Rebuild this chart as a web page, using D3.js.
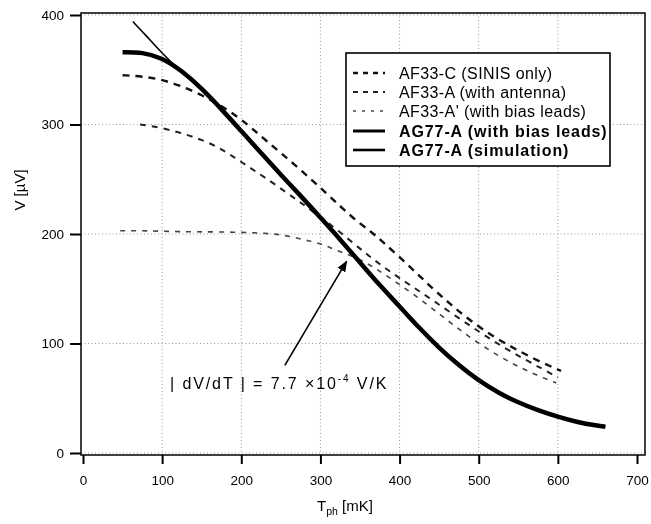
<!DOCTYPE html>
<html>
<head>
<meta charset="utf-8">
<script src="https://cdn.jsdelivr.net/npm/d3@7"></script>
<style>
  html, body { margin: 0; padding: 0; background: #fff; }
  svg { display: block; font-family: "Liberation Sans", Arial, Helvetica, sans-serif; filter: grayscale(1); }
</style>
</head>
<body>
<svg id="chart" width="651" height="524"></svg>
<script>
// ---- data (T in mK, V in µV) ----
const xTickValues = [0, 100, 200, 300, 400, 500, 600, 700];
const yTickValues = [0, 100, 200, 300, 400];

const seriesNames = [
  "AF33-C (SINIS only)",
  "AF33-A (with antenna)",
  "AF33-A' (with bias leads)",
  "AG77-A (with bias leads)",
  "AG77-A (simulation)"
];

const tAF33C = [50, 75, 100, 125, 150, 175, 200, 230, 270, 311, 340, 366, 380, 412, 439, 464, 489, 519, 546, 575, 604];
const vAF33C = [345, 344, 341, 335, 327, 317, 305, 286, 262, 235, 215, 201, 192, 171, 152, 136, 121, 106, 95, 84, 75];

const tAF33A = [72, 100, 130, 150, 172, 189, 210, 229, 257, 282, 307, 336, 361, 387, 414, 441, 471, 502, 530, 557, 580, 600];
const vAF33A = [300, 297, 291, 286, 279, 271, 261, 252, 238, 225, 212, 195, 180, 166, 153, 140, 125, 110, 97, 86, 77, 69];

const tAF33Ap = [47, 80, 120, 170, 235, 261, 277, 290, 305, 317, 332, 353, 375, 400, 425, 452, 475, 502, 529, 555, 580, 598];
const vAF33Ap = [203, 203, 202, 202, 201, 198, 195, 193, 190, 186, 182, 176, 166, 154, 141, 126, 113, 99, 87, 77, 69, 64];

const tAG77 = [50, 75, 100, 125, 150, 175, 200, 225, 250, 275, 300, 325, 350, 375, 400, 425, 450, 475, 500, 525, 550, 575, 600, 625, 650, 660];
const vAG77 = [366, 366, 361, 349, 333, 314, 294, 274, 254, 235, 215, 195, 174, 153, 134, 114, 96, 80, 66, 55, 46, 39, 33, 28, 25, 24];

const tSim = [63, 80, 100, 120, 150, 175, 200, 225, 250, 275, 300, 325, 350, 375, 400, 425, 450, 475, 500, 525, 550, 575, 600, 625, 650, 660];
const vSim = [394, 381, 365, 351, 333, 314, 294, 274, 254, 235, 215, 195, 174, 153, 134, 114, 96, 80, 66, 55, 46, 39, 33, 28, 25, 24];

const annotationText = "| dV/dT | = 7.7 \u00d710";
const annotationExp = "-4";
const annotationUnit = " V/K";

// ---- layout ----
const svg = d3.select("#chart");
const x = d3.scaleLinear().domain([0, 700]).range([83, 637]);
const y = d3.scaleLinear().domain([0, 400]).range([453, 15]);
const frame = { left: 81, right: 645, top: 13, bottom: 455 };

// grid (dotted)
const grid = svg.append("g").attr("stroke", "#999").attr("stroke-width", 1).attr("stroke-dasharray", "1,2.5");
grid.selectAll(".gx").data(xTickValues.filter(d => d > 0 && d < 700)).join("line")
  .attr("x1", d => x(d)).attr("x2", d => x(d)).attr("y1", frame.top).attr("y2", frame.bottom);
grid.selectAll(".gy").data(yTickValues).join("line")
  .attr("x1", frame.left).attr("x2", frame.right).attr("y1", d => y(d)).attr("y2", d => y(d));

// curves
const mk = (ts, vs) => ts.map((t, i) => [t, vs[i]]);
const line = d3.line().x(d => x(d[0])).y(d => y(d[1])).curve(d3.curveBasis);

const styles = [
  { data: mk(tAF33C, vAF33C), w: 2.4, dash: "7,6", color: "#111" },
  { data: mk(tAF33A, vAF33A), w: 2.0, dash: "6,6", color: "#222" },
  { data: mk(tAF33Ap, vAF33Ap), w: 1.6, dash: "5,6", color: "#444" },
  { data: mk(tAG77, vAG77), w: 4.5, dash: null, color: "#000" },
  { data: mk(tSim, vSim), w: 1.6, dash: null, color: "#000" }
];
styles.forEach(s => {
  svg.append("path").attr("d", line(s.data)).attr("fill", "none")
    .attr("stroke", s.color).attr("stroke-width", s.w)
    .attr("stroke-dasharray", s.dash).attr("stroke-linecap", "butt");
});

// frame
svg.append("rect").attr("x", frame.left).attr("y", frame.top)
  .attr("width", frame.right - frame.left).attr("height", frame.bottom - frame.top)
  .attr("fill", "none").attr("stroke", "#000").attr("stroke-width", 1.5);

// axes
const xAxis = d3.axisBottom(x).tickValues(xTickValues).tickSize(9).tickPadding(11);
const gx = svg.append("g").attr("transform", `translate(0,${frame.bottom})`).call(xAxis);
const yAxis = d3.axisLeft(y).tickValues(yTickValues).tickSize(11).tickPadding(6);
const gy = svg.append("g").attr("transform", `translate(${frame.left},0)`).call(yAxis);
[gx, gy].forEach(g => {
  g.select(".domain").remove();
  g.selectAll("line").attr("stroke", "#000").attr("stroke-width", 2);
  g.selectAll("text").attr("font-size", 13.5).attr("fill", "#000")
    .attr("font-family", "'Liberation Sans', Arial, sans-serif");
});

// axis titles
const xt = svg.append("text").attr("x", 345).attr("y", 511).attr("text-anchor", "middle")
  .attr("font-size", 15).attr("fill", "#000");
xt.append("tspan").text("T");
xt.append("tspan").attr("font-size", 10.5).attr("dy", 4).text("ph");
xt.append("tspan").attr("dy", -4).text(" [mK]");

svg.append("text").attr("transform", "translate(25,190) rotate(-90)")
  .attr("text-anchor", "middle").attr("font-size", 15).attr("fill", "#000").text("V [\u00b5V]");

// legend
const lg = svg.append("g");
lg.append("rect").attr("x", 346).attr("y", 53).attr("width", 264).attr("height", 113)
  .attr("fill", "#fff").attr("stroke", "#000").attr("stroke-width", 1.6);
const rowY = [73, 92, 111, 131, 150];
seriesNames.forEach((name, i) => {
  const s = styles[i];
  lg.append("line").attr("x1", 353).attr("x2", 385).attr("y1", rowY[i]).attr("y2", rowY[i])
    .attr("stroke", s.color).attr("stroke-width", i === 3 ? 3 : (i === 4 ? 2.6 : s.w))
    .attr("stroke-dasharray", s.dash ? (i === 2 ? "3,6" : "5,5") : null);
  lg.append("text").attr("x", 399).attr("y", rowY[i] + 5.5)
    .attr("font-size", 16).attr("letter-spacing", i >= 3 ? 0.9 : 0.4)
    .attr("font-weight", i >= 3 ? "bold" : "normal")
    .attr("fill", "#000").text(name);
});

// annotation
const at = svg.append("text").attr("x", 170).attr("y", 389).attr("font-size", 16)
  .attr("letter-spacing", 1.9).attr("fill", "#000");
at.append("tspan").text(annotationText);
at.append("tspan").attr("font-size", 10).attr("dy", -7).text(annotationExp);
at.append("tspan").attr("dy", 7).text(annotationUnit);

svg.append("defs").append("marker").attr("id", "ah").attr("viewBox", "0 0 10 10")
  .attr("refX", 9).attr("refY", 5).attr("markerWidth", 7).attr("markerHeight", 7)
  .attr("orient", "auto-start-reverse")
  .append("path").attr("d", "M0,1 L10,5 L0,9 Z").attr("fill", "#000");
svg.append("line").attr("x1", x(255)).attr("y1", y(80)).attr("x2", x(333)).attr("y2", y(175))
  .attr("stroke", "#000").attr("stroke-width", 1.6).attr("marker-end", "url(#ah)");
</script>
</body>
</html>
